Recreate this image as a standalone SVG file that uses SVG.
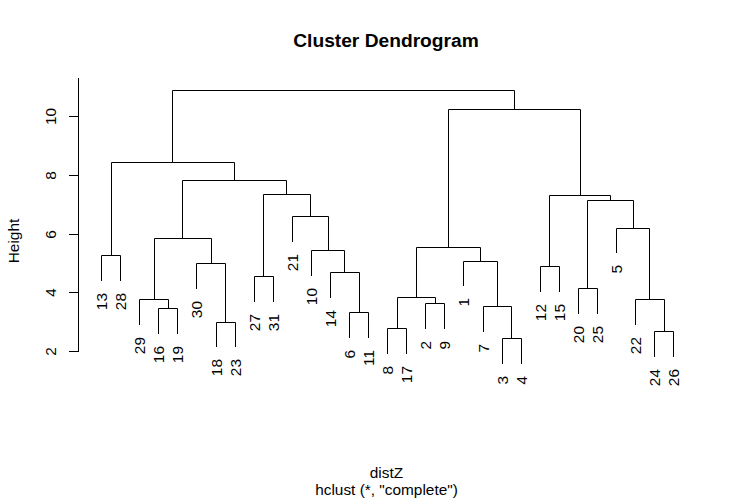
<svg xmlns="http://www.w3.org/2000/svg" width="737" height="502" viewBox="0 0 737 502">
<style>
text{font-family:"Liberation Sans",Arial,sans-serif;font-size:15.4px;fill:#000}
.lf{text-anchor:end}
.ax{text-anchor:middle}
.ttl{font-size:19.2px;font-weight:bold;text-anchor:middle}
.sub{text-anchor:middle}
path,line{stroke:#000;stroke-width:1;fill:none;stroke-linecap:square}
</style>
<rect width="737" height="502" fill="#fff"/>
<text class="ttl" x="386" y="47">Cluster Dendrogram</text>
<text class="sub" x="386.5" y="478">distZ</text>
<text class="sub" x="386.5" y="495">hclust (*, "complete")</text>
<text class="ax" transform="translate(18.5,241) rotate(-90)">Height</text>
<g id="axis">
<path d="M78.5 78.5V351.5"/>
<path d="M69.5 351.5H78.5M69.5 292.5H78.5M69.5 234.5H78.5M69.5 175.5H78.5M69.5 116.5H78.5"/>
<text class="ax" transform="translate(56,351.5) rotate(-90)">2</text>
<text class="ax" transform="translate(56,292.5) rotate(-90)">4</text>
<text class="ax" transform="translate(56,234.5) rotate(-90)">6</text>
<text class="ax" transform="translate(56,175.5) rotate(-90)">8</text>
<text class="ax" transform="translate(56,116.5) rotate(-90)">10</text>
</g>
<g id="connectors">
<path d="M101.5 280.5V255.5H120.5V280.5"/>
<path d="M158.5 333.5V308.5H177.5V333.5"/>
<path d="M139.5 324.5V299.5H168.5V308.5"/>
<path d="M216.5 346.5V322.5H235.5V346.5"/>
<path d="M196.5 288.5V263.5H225.5V322.5"/>
<path d="M154.5 299.5V238.5H211.5V263.5"/>
<path d="M254.5 301.5V276.5H273.5V301.5"/>
<path d="M349.5 337.5V312.5H368.5V337.5"/>
<path d="M330.5 297.5V272.5H359.5V312.5"/>
<path d="M311.5 275.5V250.5H344.5V272.5"/>
<path d="M292.5 241.5V216.5H328.5V250.5"/>
<path d="M263.5 276.5V194.5H310.5V216.5"/>
<path d="M182.5 238.5V180.5H286.5V194.5"/>
<path d="M111.5 255.5V162.5H234.5V180.5"/>
<path d="M387.5 353.5V328.5H406.5V353.5"/>
<path d="M425.5 328.5V303.5H444.5V328.5"/>
<path d="M397.5 328.5V297.5H435.5V303.5"/>
<path d="M502.5 363.5V338.5H521.5V363.5"/>
<path d="M483.5 331.5V306.5H511.5V338.5"/>
<path d="M463.5 285.5V261.5H497.5V306.5"/>
<path d="M416.5 297.5V247.5H480.5V261.5"/>
<path d="M540.5 291.5V266.5H559.5V291.5"/>
<path d="M578.5 313.5V288.5H597.5V313.5"/>
<path d="M654.5 356.5V331.5H673.5V356.5"/>
<path d="M635.5 324.5V299.5H664.5V331.5"/>
<path d="M616.5 252.5V228.5H649.5V299.5"/>
<path d="M587.5 288.5V200.5H633.5V228.5"/>
<path d="M549.5 266.5V195.5H610.5V200.5"/>
<path d="M448.5 247.5V109.5H580.5V195.5"/>
<path d="M172.5 162.5V90.5H514.5V109.5"/>
</g>
<g id="leaves">
<text class="lf" transform="translate(101.5,293) rotate(-90)" y="5.5">13</text>
<text class="lf" transform="translate(120.5,293) rotate(-90)" y="5.5">28</text>
<text class="lf" transform="translate(139.5,337) rotate(-90)" y="5.5">29</text>
<text class="lf" transform="translate(158.5,346) rotate(-90)" y="5.5">16</text>
<text class="lf" transform="translate(177.5,346) rotate(-90)" y="5.5">19</text>
<text class="lf" transform="translate(196.5,301) rotate(-90)" y="5.5">30</text>
<text class="lf" transform="translate(216.5,359) rotate(-90)" y="5.5">18</text>
<text class="lf" transform="translate(235.5,359) rotate(-90)" y="5.5">23</text>
<text class="lf" transform="translate(254.5,314) rotate(-90)" y="5.5">27</text>
<text class="lf" transform="translate(273.5,314) rotate(-90)" y="5.5">31</text>
<text class="lf" transform="translate(292.5,254) rotate(-90)" y="5.5">21</text>
<text class="lf" transform="translate(311.5,288) rotate(-90)" y="5.5">10</text>
<text class="lf" transform="translate(330.5,310) rotate(-90)" y="5.5">14</text>
<text class="lf" transform="translate(349.5,350) rotate(-90)" y="5.5">6</text>
<text class="lf" transform="translate(368.5,350) rotate(-90)" y="5.5">11</text>
<text class="lf" transform="translate(387.5,366) rotate(-90)" y="5.5">8</text>
<text class="lf" transform="translate(406.5,366) rotate(-90)" y="5.5">17</text>
<text class="lf" transform="translate(425.5,341) rotate(-90)" y="5.5">2</text>
<text class="lf" transform="translate(444.5,341) rotate(-90)" y="5.5">9</text>
<text class="lf" transform="translate(463.5,298) rotate(-90)" y="5.5">1</text>
<text class="lf" transform="translate(483.5,344) rotate(-90)" y="5.5">7</text>
<text class="lf" transform="translate(502.5,376) rotate(-90)" y="5.5">3</text>
<text class="lf" transform="translate(521.5,376) rotate(-90)" y="5.5">4</text>
<text class="lf" transform="translate(540.5,304) rotate(-90)" y="5.5">12</text>
<text class="lf" transform="translate(559.5,304) rotate(-90)" y="5.5">15</text>
<text class="lf" transform="translate(578.5,326) rotate(-90)" y="5.5">20</text>
<text class="lf" transform="translate(597.5,326) rotate(-90)" y="5.5">25</text>
<text class="lf" transform="translate(616.5,265) rotate(-90)" y="5.5">5</text>
<text class="lf" transform="translate(635.5,337) rotate(-90)" y="5.5">22</text>
<text class="lf" transform="translate(654.5,369) rotate(-90)" y="5.5">24</text>
<text class="lf" transform="translate(673.5,369) rotate(-90)" y="5.5">26</text>
</g>
</svg>
